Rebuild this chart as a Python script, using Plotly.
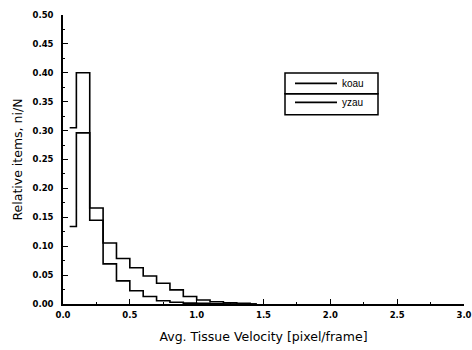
import plotly.graph_objects as go

# Bin centres of the velocity histogram [pixel/frame]
velocity = [0.05, 0.15, 0.25, 0.35, 0.45, 0.55, 0.65, 0.75, 0.85, 0.95,
            1.05, 1.15, 1.25, 1.35, 1.45]
koau = [0.305, 0.400, 0.145, 0.0695, 0.040, 0.0228, 0.013, 0.0057, 0.003,
        0.0015, 0.001, 0.0005, 0.0, 0.0, 0.0]
yzau = [0.134, 0.296, 0.166, 0.1055, 0.0786, 0.0627, 0.0484, 0.0359, 0.0245,
        0.013, 0.0070, 0.0040, 0.0020, 0.0010, 0.0]

x_ticks = [0.0, 0.5, 1.0, 1.5, 2.0, 2.5, 3.0]
y_ticks = [0.00, 0.05, 0.10, 0.15, 0.20, 0.25, 0.30, 0.35, 0.40, 0.45, 0.50]

W, H = 472, 350
L, R, T, B = 63, 8, 15, 45.5
pw, ph = W - L - R, H - T - B

def px_x(p):
    return (p - L) / pw

def px_y(p):
    return (H - B - p) / ph

fig = go.Figure()
for name, vals in (("koau", koau), ("yzau", yzau)):
    fig.add_trace(go.Scatter(
        x=velocity, y=vals, name=name, mode="lines",
        line=dict(shape="hvh", color="black", width=1.6),
    ))

tick_font = dict(family="DejaVu Sans", size=8.5, color="black", weight="bold")
title_font = dict(family="DejaVu Sans", size=12.5, color="black")

fig.update_xaxes(
    range=[0, 3], tickvals=x_ticks, ticktext=[f"{v:.1f}" for v in x_ticks],
    ticks="inside", ticklen=5, tickwidth=1.2, tickcolor="black",
    minor=dict(dtick=0.25, ticks="inside", ticklen=2, tickcolor="black"),
    showline=True, linecolor="black", linewidth=1.5, mirror=False,
    showgrid=False, zeroline=False, tickfont=tick_font, automargin=False,
    ticklabelstandoff=2,
    title=dict(text="Avg. Tissue Velocity [pixel/frame]", font=title_font, standoff=13),
)
fig.update_yaxes(
    range=[0, 0.5], tickvals=y_ticks, ticktext=[f"{v:.2f}" for v in y_ticks],
    ticks="inside", ticklen=5, tickwidth=1.2, tickcolor="black",
    minor=dict(dtick=0.025, ticks="inside", ticklen=2, tickcolor="black"),
    showline=True, linecolor="black", linewidth=1.5, mirror=False,
    showgrid=False, zeroline=False, tickfont=tick_font, ticklabelstandoff=6,
    automargin=False,
    title=dict(text="Relative items, ni/N", font=title_font, standoff=7),
)

# legend frame: two stacked boxes
box_x0, box_x1 = px_x(285), px_x(378)
for y0, y1 in ((73, 94), (94, 115)):
    fig.add_shape(type="rect", xref="paper", yref="paper",
                  x0=box_x0, x1=box_x1, y0=px_y(y1), y1=px_y(y0),
                  line=dict(color="black", width=1.5))

fig.update_layout(
    width=W, height=H,
    margin=dict(l=L, r=R, t=T, b=B),
    paper_bgcolor="white", plot_bgcolor="white",
    showlegend=True,
    legend=dict(
        x=px_x(290), y=px_y(69), xanchor="left", yanchor="top",
        bgcolor="rgba(255,255,255,0)", borderwidth=0,
        font=dict(family="Liberation Sans", size=10, color="black"),
        itemwidth=42,
    ),
)

fig.write_html("out.html", config={"displayModeBar": False},
               post_script="document.body.style.margin='0';")
